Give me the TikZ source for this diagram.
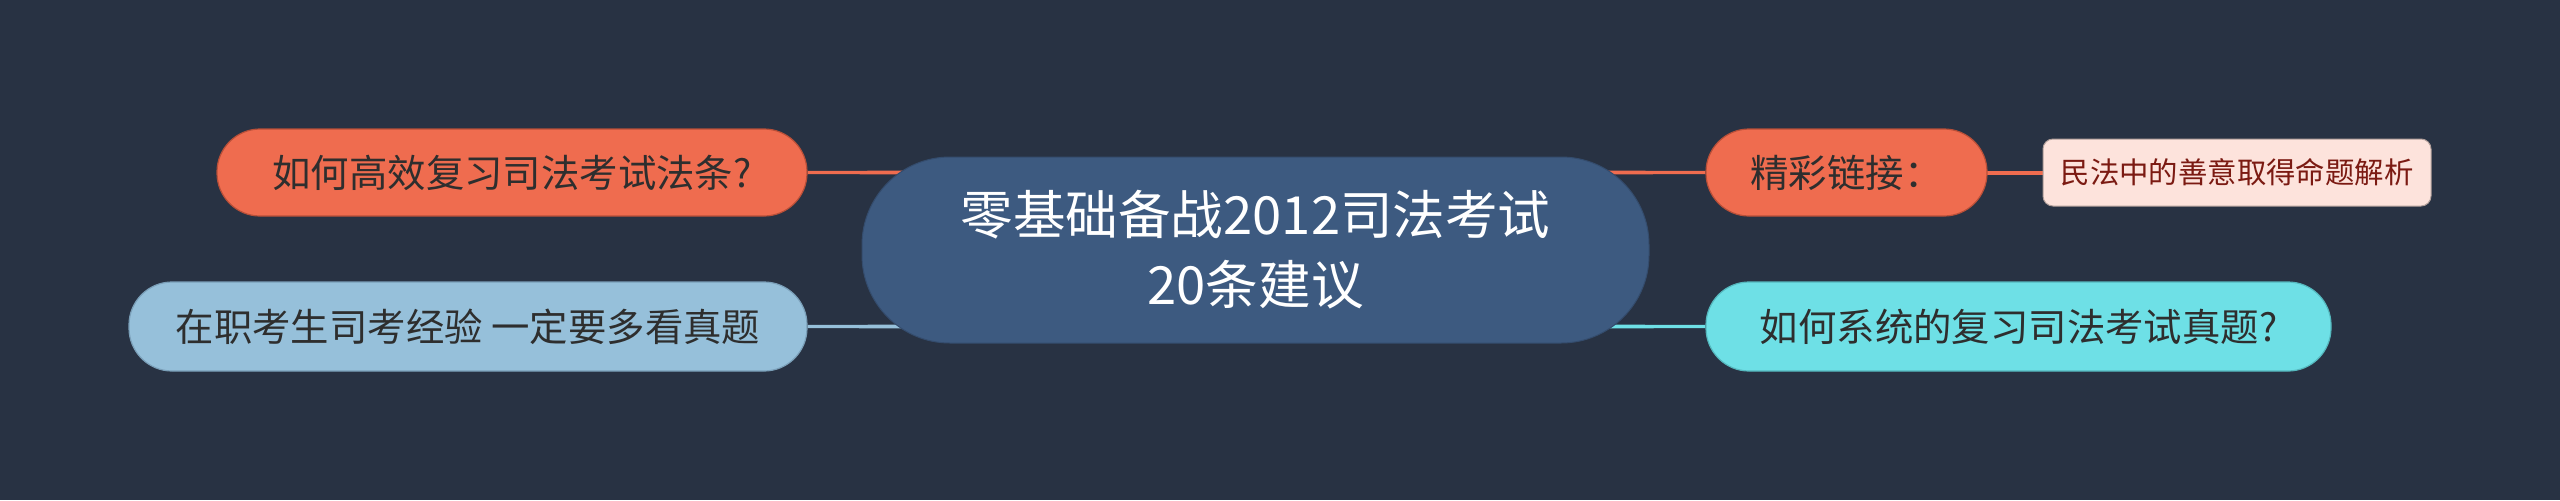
\documentclass[tikz,border=0pt]{standalone}
\usepackage{fontspec}
\newfontfamily\cjk{Noto Sans CJK SC}
\usetikzlibrary{backgrounds,calc}
\definecolor{bgc}{HTML}{283243}
\definecolor{cfill}{HTML}{3D5A80}
\definecolor{orng}{HTML}{EF6C4F}
\definecolor{orngd}{HTML}{B84F38}
\definecolor{lblue}{HTML}{96C0DA}
\definecolor{lblued}{HTML}{7A9FB8}
\definecolor{cyan2}{HTML}{6EE0E6}
\definecolor{cyand}{HTML}{55B8BE}
\definecolor{pink2}{HTML}{FDE3DC}
\definecolor{pinkt}{HTML}{7B1A12}
\definecolor{dtext}{HTML}{2E2E2E}
\tikzset{
  x=0.5pt, y=-0.5pt,
  mainbox/.style={rounded corners=44pt, fill=cfill, draw=cfill!85!black, line width=0.5pt,
    minimum width=393.5pt, minimum height=93pt, inner sep=0pt, text=white, align=center,
    font=\cjk\fontsize{26.3}{35}\selectfont},
  subbox/.style={rounded corners=21.5pt, line width=0.6pt, minimum height=43.5pt, inner sep=0pt,
    text=dtext, font=\cjk\fontsize{19.2}{23}\selectfont},
  leafbox/.style={rounded corners=5pt, fill=pink2, draw=pink2!70!black, line width=0.5pt,
    minimum width=194pt, minimum height=33.5pt, inner sep=0pt, text=pinkt,
    font=\cjk\fontsize{14.7}{18}\selectfont},
  link/.style={line width=2pt, line cap=round}
}
\newcommand{\taperlink}[3]{%
  \fill[#1] ($(#2)+(0,-1.6)$) -- ($(#3)+(0,-2.8)$) -- ($(#3)+(0,2.8)$) -- ($(#2)+(0,1.6)$) -- cycle;}
\begin{document}
\begin{tikzpicture}
\useasboundingbox (0,0) rectangle (2560,500);
\node[mainbox] (c) at (1255.5,250) {零基础备战2012司法考试\\20条建议};
\node[subbox, fill=orng, draw=orngd, minimum width=295pt] (l1) at (512,172.5) {如何高效复习司法考试法条?};
\node[subbox, fill=lblue, draw=lblued, minimum width=339pt, minimum height=44.5pt] (l2) at (468,326.5) {在职考生司考经验 一定要多看真题};
\node[subbox, fill=orng, draw=orngd, minimum width=140.5pt] (r1) at (1846.5,172.5) {精彩链接：};
\node[leafbox] (r1a) at (2237,172.5) {民法中的善意取得命题解析};
\node[subbox, fill=cyan2, draw=cyand, minimum width=312.5pt, minimum height=44.5pt] (r2) at (2018.5,326.5) {如何系统的复习司法考试真题?};
\coordinate (cl1) at (l1.east -| c.center);
\coordinate (cl2) at (l2.east -| c.center);
\coordinate (cr1) at (r1.west -| c.center);
\coordinate (cr2) at (r2.west -| c.center);
\begin{scope}[on background layer]
\fill[bgc] (0,0) rectangle (2560,500);
\taperlink{orng}{l1.east}{cl1}
\taperlink{lblue}{l2.east}{cl2}
\taperlink{orng}{r1.west}{cr1}
\taperlink{cyan2}{r2.west}{cr2}
\draw[link, orng] (r1.east) -- (r1a.west);
\end{scope}
\end{tikzpicture}
\end{document}
